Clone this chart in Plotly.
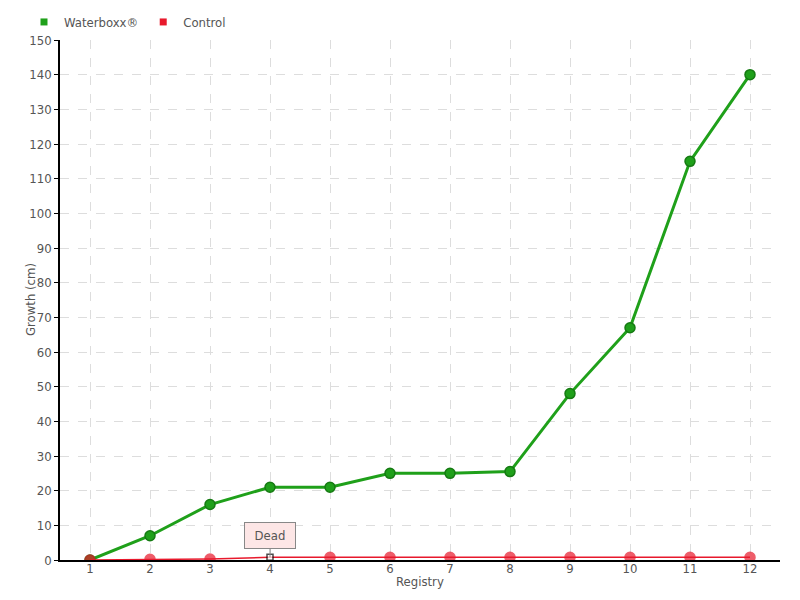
import plotly.graph_objects as go

registry = list(range(1, 13))
waterboxx = [0, 7, 16, 21, 21, 25, 25, 25.5, 48, 67, 115, 140]
control = [0, 0.2, 0.3, 0.8, 0.8, 0.8, 0.8, 0.8, 0.8, 0.8, 0.8, 0.8]
y_ticks = list(range(0, 151, 10))

FONT = "DejaVu Sans Condensed"
GREY = "#555555"
GREEN = "#1fa01a"
RED = "#e8192c"

ctrl_symbols = ["circle"] * len(registry)
ctrl_symbols[3] = "square"
ctrl_colors = [RED] * len(registry)
ctrl_colors[3] = "white"
ctrl_line_colors = [RED] * len(registry)
ctrl_line_colors[3] = "black"
ctrl_sizes = [10] * len(registry)
ctrl_sizes[3] = 6

fig = go.Figure()
fig.add_trace(go.Scatter(
    x=registry, y=waterboxx, name="Waterboxx®", mode="lines+markers", showlegend=False,
    line=dict(color=GREEN, width=3),
    marker=dict(size=10, color=GREEN, line=dict(color="#157a12", width=1.5)),
))
fig.add_trace(go.Scatter(
    x=registry, y=control, name="Control", mode="lines+markers", showlegend=False,
    line=dict(color=RED, width=1.5),
    marker=dict(size=ctrl_sizes, color=ctrl_colors, symbol=ctrl_symbols,
                line=dict(color=ctrl_line_colors, width=1.5)),
))
# legend-only entries with square symbols
fig.add_trace(go.Scatter(x=[None], y=[None], name="Waterboxx®", mode="markers",
                         marker=dict(symbol="square", size=7, color=GREEN)))
fig.add_trace(go.Scatter(x=[None], y=[None], name="Control", mode="markers",
                         marker=dict(symbol="square", size=7, color=RED)))

fig.add_annotation(
    x=registry[3], y=control[3], text="Dead", showarrow=True,
    ax=0, ay=-22, arrowhead=0, arrowwidth=1, arrowcolor="#888888",
    width=44, height=19,
    bgcolor="#fde6e6", bordercolor="#888888", borderwidth=1, borderpad=3,
    font=dict(family=FONT, size=13, color=GREY),
)
fig.add_annotation(
    xref="paper", yref="paper", x=-30 / 720, y=0.5, text="Growth (cm)",
    textangle=-90, showarrow=False, xanchor="center", yanchor="middle",
    font=dict(family=FONT, size=13, color=GREY),
)
fig.add_annotation(
    xref="paper", yref="paper", x=0.5, y=-21 / 520, text="Registry",
    showarrow=False, xanchor="center", yanchor="middle",
    font=dict(family=FONT, size=13, color=GREY),
)

fig.update_layout(
    width=800, height=600,
    margin=dict(l=52, r=28, t=32, b=48, autoexpand=False),
    plot_bgcolor="white", paper_bgcolor="white",
    font=dict(family=FONT, size=13, color=GREY),
    showlegend=True,
    legend=dict(orientation="h", x=0.02, xref="container", xanchor="left",
                y=1 - 14 / 600, yref="container", yanchor="middle",
                font=dict(family=FONT, size=13, color=GREY),
                itemwidth=30, traceorder="normal", tracegroupgap=0,
                bgcolor="rgba(0,0,0,0)"),
    xaxis=dict(
        range=[0.5, 12.5], tickvals=registry, automargin=False,
        showline=True, linecolor="black", linewidth=1.5,
        showgrid=True, gridcolor="#dddddd", griddash="dash", gridwidth=1,
        ticks="", ticklabelstandoff=-4, tickfont=dict(size=13, color=GREY),
        zeroline=False,
    ),
    yaxis=dict(
        range=[0, 150], tickvals=y_ticks, automargin=False,
        showline=True, linecolor="black", linewidth=1.5,
        showgrid=True, gridcolor="#dddddd", griddash="dash", gridwidth=1,
        ticks="outside", ticklen=4, tickcolor="black",
        tickfont=dict(size=13, color=GREY),
        zeroline=False,
    ),
)

fig.write_html("out.html")
